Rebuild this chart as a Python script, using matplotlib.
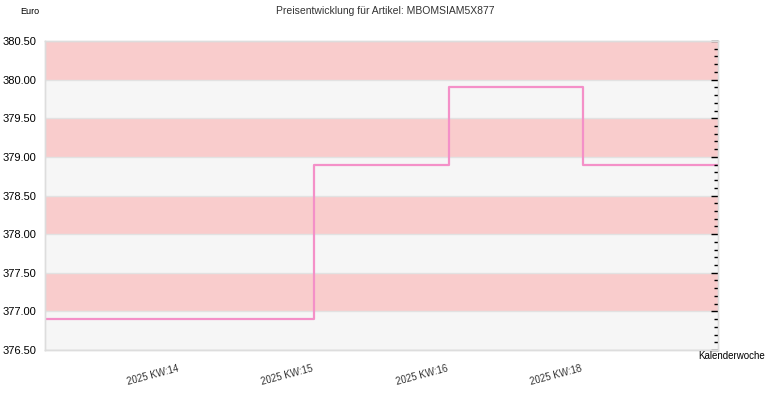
import matplotlib
matplotlib.use('Agg')
import matplotlib.pyplot as plt
import matplotlib.ticker as mtick

# === DATA ===
# price per step position (index 0..5), drawn as a post-step line
positions = [0, 1, 2, 3, 4, 5]
prices = [376.90, 376.90, 378.90, 379.90, 378.90, 378.90]
tick_positions = [1, 2, 3, 4]
tick_labels = ['2025 KW:14', '2025 KW:15', '2025 KW:16', '2025 KW:18']
y_min, y_max = 376.50, 380.50

plt.rcParams['font.family'] = ['Liberation Sans', 'DejaVu Sans']

fig = plt.figure(figsize=(7.7, 4.0), dpi=100)
ax = fig.add_axes([45 / 770, 1 - 350 / 400, 673 / 770, 309 / 400])

# alternating background bands
band = 0.5
lo = y_min
i = 0
while lo < y_max - 1e-9:
    color = '#f6f6f6' if i % 2 == 0 else '#f9cccc'
    ax.axhspan(lo, lo + band, color=color, zorder=0, lw=0)
    ax.axhline(lo, color='#e2e2e2', lw=1, zorder=1)
    lo += band
    i += 1

ax.step(positions, prices, where='post', color='#f490c8', lw=1.6, zorder=3)

ax.set_xlim(positions[0], positions[-1])
ax.set_ylim(y_min, y_max)

ax.set_xticks(tick_positions)
ax.set_xticklabels(tick_labels, rotation=15, ha='right', fontsize=7, color='#333333')
ax.tick_params(axis='x', length=0, pad=10)

ax.yaxis.set_major_locator(mtick.MultipleLocator(0.5))
ax.yaxis.set_major_formatter(mtick.FormatStrFormatter('%.2f'))
ax.tick_params(axis='y', length=0, labelsize=8, pad=6)

# right-hand tick marks pointing inward
axr = ax.twinx()
axr.set_ylim(y_min, y_max)
axr.yaxis.set_major_locator(mtick.MultipleLocator(0.5))
axr.yaxis.set_minor_locator(mtick.MultipleLocator(0.1))
axr.tick_params(axis='y', which='major', direction='in', length=5, width=1, labelright=False)
axr.tick_params(axis='y', which='minor', direction='in', length=3, width=1)
axr.set_yticklabels([])

for a in (ax, axr):
    for side in a.spines:
        a.spines[side].set_color('#dddddd')
        a.spines[side].set_linewidth(1)

fig.text(20 / 770, 1 - 11 / 400, 'Euro', fontsize=6.5, va='center', ha='left')
fig.text(385 / 770, 1 - 11 / 400, 'Preisentwicklung für Artikel: MBOMSIAM5X877',
         fontsize=7.5, va='center', ha='center', color='#333333')
fig.text(765 / 770, 1 - 356 / 400, 'Kalenderwoche', fontsize=7, va='center', ha='right')

fig.savefig('out.png', dpi=100, facecolor='white')
